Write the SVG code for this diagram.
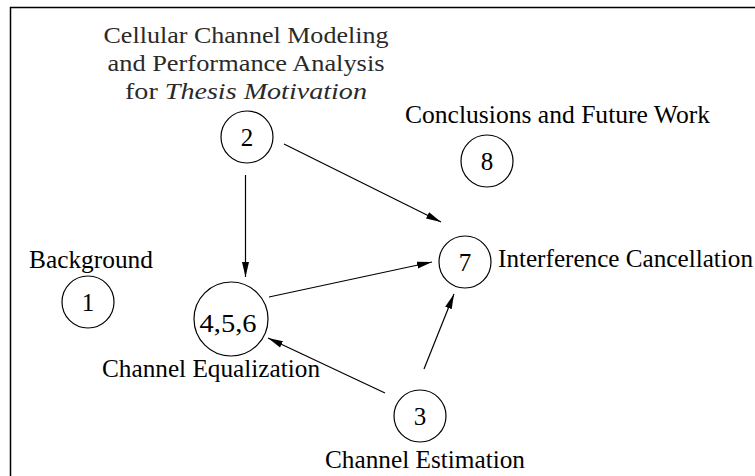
<svg xmlns="http://www.w3.org/2000/svg" width="755" height="476" viewBox="0 0 755 476">
<defs>
<marker id="ah" markerUnits="userSpaceOnUse" markerWidth="16" markerHeight="8" viewBox="0 0 16 8" refX="15" refY="4" orient="auto">
<path d="M0,0.5 L15,4 L0,7.5 Z" fill="#000"/>
</marker>
</defs>
<style>
.node circle{fill:none;stroke:#000;stroke-width:1.2}
text{font-family:'Liberation Serif','DejaVu Serif',serif}
.lbl{font-size:25px;fill:#000}
.num{font-size:25px;fill:#000;text-anchor:middle}
.cm{font-size:24px;fill:#2a2a2a;text-anchor:middle}
.edge line{stroke:#000;stroke-width:1.2;marker-end:url(#ah)}
</style>
<rect width="755" height="476" fill="#fff"/>
<path d="M10.5,476 V7.5 H755" fill="none" stroke="#000" stroke-width="1.5"/>

<g id="connectors" class="edge">
<line x1="245.5" y1="175" x2="245.5" y2="277"/>
<line x1="284" y1="144" x2="441" y2="222"/>
<line x1="269" y1="297" x2="432" y2="262"/>
<line x1="385" y1="393" x2="268" y2="338"/>
<line x1="424" y1="369" x2="454" y2="294"/>
</g>

<g id="node1" class="node">
<circle cx="88" cy="302" r="26"/>
<text class="num" x="88" y="311" font-family="Liberation Serif, serif">1</text>
<text class="lbl" x="29" y="268" textLength="124" lengthAdjust="spacingAndGlyphs" font-family="Liberation Serif, serif">Background</text>
</g>

<g id="node2" class="node">
<circle cx="247" cy="137" r="26"/>
<text class="num" x="247" y="146">2</text>
<text class="cm" x="246" y="43" textLength="285" lengthAdjust="spacingAndGlyphs">Cellular Channel Modeling</text>
<text class="cm" x="246" y="71" textLength="277" lengthAdjust="spacingAndGlyphs">and Performance Analysis</text>
<text class="cm" x="246" y="99" textLength="242" lengthAdjust="spacingAndGlyphs">for <tspan font-style="italic">Thesis Motivation</tspan></text>
</g>

<g id="node3" class="node">
<circle cx="420" cy="416" r="26"/>
<text class="num" x="420" y="425">3</text>
<text class="lbl" x="325" y="468" textLength="200" lengthAdjust="spacingAndGlyphs">Channel Estimation</text>
</g>

<g id="node456" class="node">
<circle cx="231" cy="319" r="37"/>
<text class="num" x="228" y="332" textLength="57" lengthAdjust="spacingAndGlyphs">4,5,6</text>
<text class="lbl" x="102" y="377" textLength="218" lengthAdjust="spacingAndGlyphs">Channel Equalization</text>
</g>

<g id="node7" class="node">
<circle cx="465" cy="262" r="26"/>
<text class="num" x="465" y="271">7</text>
<text class="lbl" x="498" y="267" textLength="255" lengthAdjust="spacingAndGlyphs">Interference Cancellation</text>
</g>

<g id="node8" class="node">
<circle cx="487" cy="161" r="26"/>
<text class="num" x="487" y="170">8</text>
<text class="lbl" x="405" y="123" textLength="305" lengthAdjust="spacingAndGlyphs">Conclusions and Future Work</text>
</g>
</svg>
